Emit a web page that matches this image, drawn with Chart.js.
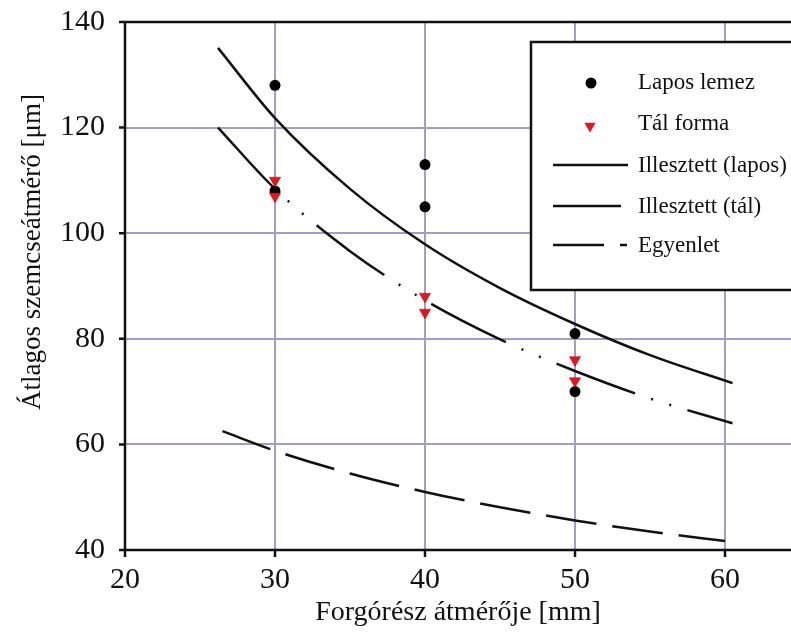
<!DOCTYPE html>
<html>
<head>
<meta charset="utf-8">
<script src="https://cdn.jsdelivr.net/npm/chart.js@4.4.0/dist/chart.umd.min.js"></script>
<style>
  html, body { margin: 0; padding: 0; background: #fff; }
  #doboz { width: 791px; height: 633px; }
</style>
</head>
<body>
<div id="doboz"><canvas id="grafikon" width="791" height="633"></canvas></div>
<script>
// tengely osztások
const xTicks = [20, 30, 40, 50, 60];
const yTicks = [40, 60, 80, 100, 120, 140];

// mért pontok
const laposX = [30, 30, 40, 40, 50, 50];
const laposY = [128, 108, 113, 105, 81, 70];
const talX = [30, 30, 40, 40, 50, 50];
const talY = [110, 107, 88, 85, 76, 72];

// illesztett görbék
const illLaposX = [26.2, 30, 35, 40, 45, 50, 55, 60.5];
const illLaposY = [135.1, 121.8, 108.4, 97.9, 89.6, 82.8, 76.9, 71.6];
const illTalX = [26.2, 30, 35, 40, 45, 50, 55, 60.5];
const illTalY = [120, 108.4, 96.6, 87.3, 79.9, 73.9, 68.7, 64];
const egyenletX = [26.5, 30, 35, 40, 45, 50, 55, 60];
const egyenletY = [62.5, 58.8, 54.5, 51.0, 48.1, 45.6, 43.5, 41.7];

const cimkek = ['Lapos lemez', 'Tál forma', 'Illesztett (lapos)', 'Illesztett (tál)', 'Egyenlet'];
const yCim = 'Átlagos szemcseátmérő [μm]';

const betu = "'Liberation Serif', 'Times New Roman', serif";
const racsSzin = '#a0a0c6';

const pontok = (xs, ys) => xs.map((x, i) => ({ x: x, y: ys[i] }));

const talDash = [84, 17, 2, 17, 2, 17];
const egyDash = [51, 16];

// keret és osztásjelek (a tengelyek fekete vonalai)
const keret = {
  id: 'keret',
  afterDatasetsDraw(chart) {
    const { ctx, chartArea: a, scales } = chart;
    ctx.save();
    ctx.strokeStyle = '#111';
    ctx.lineWidth = 2.5;
    ctx.beginPath();
    ctx.moveTo(a.left - 6, a.top); ctx.lineTo(chart.width, a.top);
    ctx.moveTo(a.left - 6, a.bottom); ctx.lineTo(chart.width, a.bottom);
    ctx.moveTo(a.left, a.top); ctx.lineTo(a.left, a.bottom + 7);
    yTicks.forEach(v => {
      const y = scales.y.getPixelForValue(v);
      ctx.moveTo(a.left - 6, y); ctx.lineTo(a.left, y);
    });
    xTicks.forEach(v => {
      const x = scales.x.getPixelForValue(v);
      ctx.moveTo(x, a.bottom); ctx.lineTo(x, a.bottom + 7);
    });
    ctx.stroke();

    // függőleges tengelycím (kicsit a közép fölött, mint az eredetin)
    ctx.translate(33, 252);
    ctx.rotate(-Math.PI / 2);
    ctx.font = '27px ' + betu;
    ctx.fillStyle = '#111';
    ctx.textAlign = 'center';
    ctx.textBaseline = 'middle';
    ctx.fillText(yCim, 0, 0);
    ctx.restore();
  }
};

// jelmagyarázat a diagram jobb felső részén
const jelmagyarazat = {
  id: 'jelmagyarazat',
  afterDraw(chart) {
    const ctx = chart.ctx;
    const ds = chart.data.datasets;
    ctx.save();
    ctx.fillStyle = '#fff';
    ctx.fillRect(531, 42, 270, 248);
    ctx.strokeStyle = '#111';
    ctx.lineWidth = 2.5;
    ctx.strokeRect(531, 42, 270, 248);

    const sorok = [82, 123, 165, 206, 245];
    ctx.font = '23px ' + betu;
    ctx.textBaseline = 'middle';
    ds.forEach((d, i) => {
      const y = sorok[i];
      ctx.fillStyle = '#111';
      ctx.fillText(d.label, 638, y + 1);
      if (d.showLine) {
        ctx.beginPath();
        ctx.strokeStyle = d.borderColor;
        ctx.lineWidth = d.borderWidth;
        ctx.setLineDash(d.borderDash || []);
        ctx.moveTo(553, y);
        ctx.lineTo(i === 2 ? 628 : (i === 3 ? 621 : 627), y);
        ctx.stroke();
        ctx.setLineDash([]);
      } else if (d.pointStyle === 'circle') {
        ctx.beginPath();
        ctx.fillStyle = d.backgroundColor;
        ctx.arc(591, y + 1, 5.5, 0, Math.PI * 2);
        ctx.fill();
      } else {
        const r = 6.5, cx = 590, cy = y + 3;
        ctx.beginPath();
        ctx.fillStyle = d.backgroundColor;
        ctx.moveTo(cx - r * 0.866, cy - r / 2);
        ctx.lineTo(cx + r * 0.866, cy - r / 2);
        ctx.lineTo(cx, cy + r);
        ctx.closePath();
        ctx.fill();
      }
    });
    ctx.restore();
  }
};

const adatok = {
  datasets: [
    {
      label: cimkek[0],
      data: pontok(laposX, laposY),
      showLine: false,
      pointStyle: 'circle',
      pointRadius: 5.5,
      backgroundColor: '#000',
      borderColor: '#000',
      borderWidth: 0,
      order: 1
    },
    {
      label: cimkek[1],
      data: pontok(talX, talY),
      showLine: false,
      pointStyle: 'triangle',
      rotation: 180,
      pointRadius: 6.5,
      backgroundColor: '#e3161d',
      borderColor: '#b00',
      borderWidth: 0.5,
      order: 0
    },
    {
      label: cimkek[2],
      data: pontok(illLaposX, illLaposY),
      showLine: true,
      pointRadius: 0,
      borderColor: '#111',
      borderWidth: 2.5,
      cubicInterpolationMode: 'monotone',
      order: 2
    },
    {
      label: cimkek[3],
      data: pontok(illTalX, illTalY),
      showLine: true,
      pointRadius: 0,
      borderColor: '#111',
      borderWidth: 2.5,
      borderDash: talDash,
      cubicInterpolationMode: 'monotone',
      order: 2
    },
    {
      label: cimkek[4],
      data: pontok(egyenletX, egyenletY),
      showLine: true,
      pointRadius: 0,
      borderColor: '#111',
      borderWidth: 2.5,
      borderDash: egyDash,
      cubicInterpolationMode: 'monotone',
      order: 2
    }
  ]
};

const opciok = {
  responsive: false,
  animation: false,
  devicePixelRatio: 1,
  layout: { autoPadding: false, padding: { top: 22, right: 0, bottom: 0, left: 0 } },
  plugins: {
    legend: { display: false },
    tooltip: { enabled: false }
  },
  scales: {
    x: {
      type: 'linear',
      min: 20,
      max: 64.4,
      afterBuildTicks: s => { s.ticks = xTicks.map(v => ({ value: v })); },
      afterFit: s => { s.height = 83; s.paddingLeft = 0; s.paddingRight = 0; },
      grid: { color: racsSzin, lineWidth: 2, drawTicks: false },
      border: { display: false },
      ticks: { color: '#111', font: { family: betu, size: 30 }, padding: 12, maxRotation: 0 },
      title: { display: true, text: 'Forgórész átmérője [mm]', color: '#111', font: { family: betu, size: 28 }, padding: { top: 0, bottom: 4 } }
    },
    y: {
      type: 'linear',
      min: 40,
      max: 140,
      afterBuildTicks: s => { s.ticks = yTicks.map(v => ({ value: v })); },
      afterFit: s => { s.width = 125; s.paddingTop = 0; s.paddingBottom = 0; },
      grid: { color: racsSzin, lineWidth: 2, drawTicks: false },
      border: { display: false },
      ticks: { color: '#111', font: { family: betu, size: 30 }, padding: 20 },
      title: { display: false }
    }
  }
};

const grafikon = new Chart(document.getElementById('grafikon'), {
  type: 'scatter',
  data: adatok,
  options: opciok,
  plugins: [keret, jelmagyarazat]
});
</script>
</body>
</html>
